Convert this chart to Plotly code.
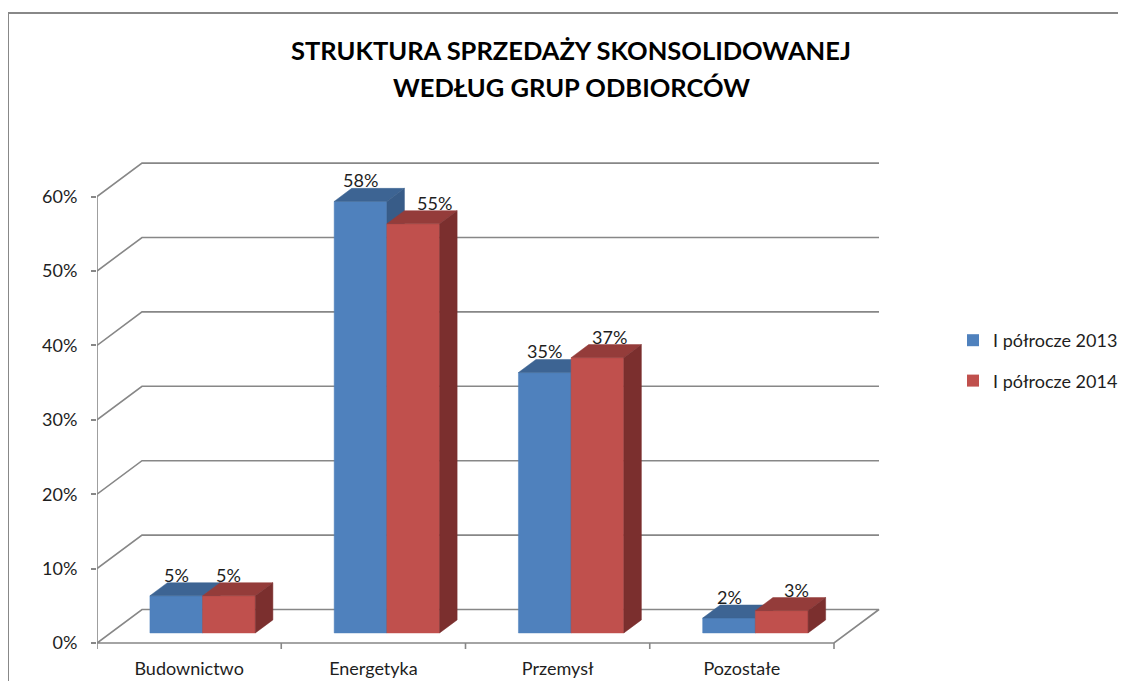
import plotly.graph_objects as go

# ---------------- data ----------------
categories = ["Budownictwo", "Energetyka", "Przemysł", "Pozostałe"]
series_names = ["I półrocze 2013", "I półrocze 2014"]
values_2013 = [0.05, 0.58, 0.35, 0.02]
values_2014 = [0.05, 0.55, 0.37, 0.03]
y_ticks = [0.0, 0.1, 0.2, 0.3, 0.4, 0.5, 0.6]
title_lines = ["STRUKTURA SPRZEDAŻY SKONSOLIDOWANEJ", "WEDŁUG GRUP ODBIORCÓW"]

# ---------------- styling / geometry ----------------
OFF = 8                                   # page body margin of the html page
W, H = 1126 - 2 * OFF, 689 - 2 * OFF      # figure size
def px(v):                                # screen pixel -> figure pixel
    return v - OFF

L_PX, R_PX, T_PX, B_PX = px(97), px(884), px(150), px(650)   # plot area
X_UNIT = (834 - 97) / 4                   # px per category
Y_UNIT = 744                              # px per 100 %
Y0_PX = px(643)                           # 0 % on the front plane
DEPTH_X = 45 / X_UNIT
DEPTH_Y = 33.5 / Y_UNIT
BAR_W = 52.7 / X_UNIT
FRONT_FRAC = 0.30
BAR_FRAC = 0.39
GRID = "#878787"
FONT = "Lato, Carlito, 'Liberation Sans', sans-serif"
TXT = "#1e1e1e"
colors = {
    0: dict(front="#4F81BD", top="#3D6493", side="#385C88"),
    1: dict(front="#C0504D", top="#943C3A", side="#7B2F2E"),
}
label_nudge_px = [[0, 0, 0, 0], [0, 21, 12, 15]]

x_range = [-0.5, -0.5 + (R_PX - L_PX) / X_UNIT]
y_range = [-(B_PX - Y0_PX) / Y_UNIT, (Y0_PX - T_PX) / Y_UNIT]
pw, ph = R_PX - L_PX, B_PX - T_PX
def paper_x(screen):
    return (px(screen) - L_PX) / pw
def paper_y(screen):
    return (B_PX - px(screen)) / ph

fig = go.Figure()

# ---------------- walls / floor / gridlines ----------------
n = len(categories)
x_lo, x_hi = -0.5, n - 0.5
gx, gy = [], []
for v in y_ticks[1:]:
    gx += [x_lo, x_lo + DEPTH_X, x_hi + DEPTH_X, None]
    gy += [v, v + DEPTH_Y, v + DEPTH_Y, None]
gx += [x_lo, x_hi, x_hi + DEPTH_X, x_lo + DEPTH_X, x_lo, None]
gy += [0, 0, DEPTH_Y, DEPTH_Y, 0, None]
gx += [x_lo, x_lo, None]
gy += [0, y_ticks[-1], None]
tick_len = 6 / Y_UNIT
for k in range(n + 1):
    gx += [x_lo + k, x_lo + k, None]
    gy += [0, -tick_len, None]
fig.add_trace(go.Scatter(x=gx, y=gy, mode="lines", line=dict(color=GRID, width=1.6),
                         hoverinfo="skip", showlegend=False, cliponaxis=False))

# ---------------- 3D bars ----------------
sx, sy = FRONT_FRAC * DEPTH_X, FRONT_FRAC * DEPTH_Y
bdx, bdy = BAR_FRAC * DEPTH_X, BAR_FRAC * DEPTH_Y
all_vals = [values_2013, values_2014]
annotations = []
for s, vals in enumerate(all_vals):
    fx, fy, tx, ty, qx, qy = [], [], [], [], [], []
    for i, v in enumerate(vals):
        x0 = i - BAR_W + s * BAR_W + sx
        x1 = x0 + BAR_W
        b = sy
        fx += [x0, x1, x1, x0, x0, None]
        fy += [b, b, b + v, b + v, b, None]
        tx += [x0, x1, x1 + bdx, x0 + bdx, x0, None]
        ty += [b + v, b + v, b + v + bdy, b + v + bdy, b + v, None]
        qx += [x1, x1 + bdx, x1 + bdx, x1, x1, None]
        qy += [b, b + bdy, b + v + bdy, b + v, b, None]
        annotations.append(dict(
            x=(x0 + x1) / 2, y=b + v + bdy, xref="x", yref="y",
            text=f"{round(v * 100)}%", showarrow=False, yanchor="middle",
            yshift=8, xshift=label_nudge_px[s][i],
            font=dict(family=FONT, size=18, color=TXT)))
    c = colors[s]
    for (xx, yy, col) in [(fx, fy, c["front"]), (tx, ty, c["top"]), (qx, qy, c["side"])]:
        fig.add_trace(go.Scatter(x=xx, y=yy, mode="lines", fill="toself", fillcolor=col,
                                 line=dict(color=col, width=0.5), hoverinfo="skip",
                                 showlegend=False))

for s, name in enumerate(series_names):
    fig.add_trace(go.Scatter(x=[None], y=[None], mode="markers", name=name,
                             marker=dict(symbol="square", size=12, color=colors[s]["front"]),
                             legendgroup=f"g{s}"))

for k, line in enumerate(title_lines):
    annotations.append(dict(
        x=paper_x(571), y=paper_y(50 + 37 * k),
        xref="paper", yref="paper", text=f"<b>{line}</b>", showarrow=False,
        xanchor="center", yanchor="middle",
        font=dict(family=FONT, size=25.5, color="#000000")))

frame = dict(color="#888888", width=2)
fig.update_layout(
    width=W, height=H,
    margin=dict(l=L_PX, r=W - R_PX, t=T_PX, b=H - B_PX, pad=0, autoexpand=False),
    paper_bgcolor="white", plot_bgcolor="white",
    font=dict(family=FONT, size=18, color=TXT),
    showlegend=True,
    legend=dict(x=paper_x(953), y=paper_y(322), xanchor="left", yanchor="top",
                font=dict(family=FONT, size=18, color=TXT), tracegroupgap=14,
                bgcolor="rgba(0,0,0,0)"),
    xaxis=dict(range=x_range, tickvals=list(range(n)), ticktext=categories,
               showgrid=False, zeroline=False, showline=False, ticks="",
               tickfont=dict(family=FONT, size=18, color=TXT), ticklabelstandoff=6,
               automargin=False, fixedrange=True),
    yaxis=dict(range=y_range, tickvals=y_ticks, tickformat=".0%",
               showgrid=False, zeroline=False, showline=False,
               ticks="outside", ticklen=5, tickwidth=1.6, tickcolor=GRID,
               tickfont=dict(family=FONT, size=18, color=TXT), ticklabelstandoff=10,
               automargin=False, fixedrange=True),
    annotations=annotations,
    shapes=[
        dict(type="line", xref="paper", yref="paper",
             x0=paper_x(8), x1=paper_x(8), y0=paper_y(13), y1=paper_y(700),
             line=frame, layer="below"),
        dict(type="line", xref="paper", yref="paper",
             x0=paper_x(8), x1=paper_x(1118), y0=paper_y(13), y1=paper_y(13),
             line=frame, layer="below"),
    ],
)

fig.write_html("out.html")
